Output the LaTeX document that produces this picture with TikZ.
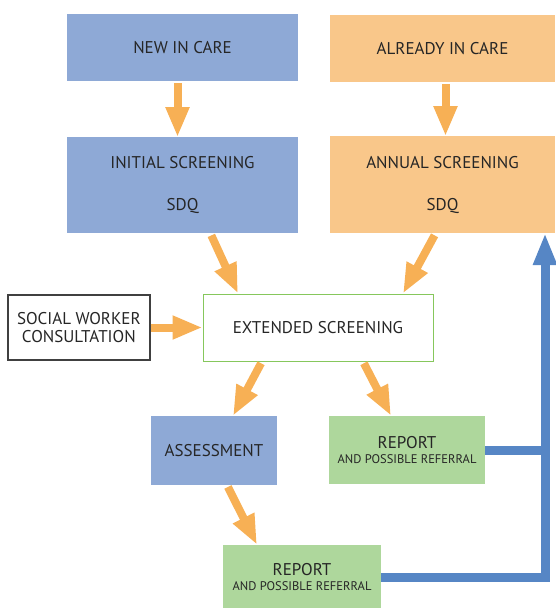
\documentclass[tikz,border=0pt]{standalone}
\usepackage{fontspec}
\setmainfont{PT Sans}
\usepackage{tikz}
\usetikzlibrary{positioning}
\usetikzlibrary{arrows.meta}

\definecolor{boxblue}{HTML}{8EA9D6}
\definecolor{boxorange}{HTML}{F9C78A}
\definecolor{boxgreen}{HTML}{AED79C}
\definecolor{edgegreen}{HTML}{86C75C}
\definecolor{arroworange}{HTML}{F7B055}
\definecolor{lineblue}{HTML}{5686C5}
\definecolor{textgray}{HTML}{262626}

\begin{document}
\begin{tikzpicture}[x=1pt, y=-1pt,
    box/.style={text=textgray, align=center, inner sep=0pt,
      font=\fontsize{17}{18}\selectfont},
    bluebox/.style={box, fill=boxblue},
    orangebox/.style={box, fill=boxorange},
    greenbox/.style={box, fill=boxgreen},
    flow/.style={-{Triangle[width=22pt,length=30pt]}, line width=8pt, arroworange},
    back/.style={-{Triangle[width=22pt,length=32pt]}, line width=9pt, lineblue}]
  \useasboundingbox (0,0) rectangle (555,608);
  % nodes %
  \node[bluebox, minimum width=231pt, minimum height=67pt] (new) at (182.5,47.5) {NEW IN CARE};
  \node[orangebox, minimum width=225pt, minimum height=67pt] (already) at (442.5,48.5) {ALREADY IN CARE};
  \node[bluebox, minimum width=231pt, minimum height=96pt, below=56pt of new] (init)
    {INITIAL SCREENING\\[24pt]SDQ};
  \node[orangebox, minimum width=225pt, minimum height=97pt, below=54pt of already] (annual)
    {ANNUAL SCREENING\\[24pt]SDQ};
  \node[box, draw=edgegreen, line width=1pt, minimum width=230pt, minimum height=67pt] (ext) at (318,327.5)
    {EXTENDED SCREENING};
  \node[box, draw=black!75, line width=1.3pt, minimum width=142pt, minimum height=65pt, left=52pt of ext] (social)
    {SOCIAL WORKER\\CONSULTATION};
  \node[bluebox, minimum width=126pt, minimum height=69pt] (assess) at (214,450.5) {ASSESSMENT};
  \node[greenbox, minimum width=156pt, minimum height=68pt] (rep1) at (407,450)
    {REPORT\\[-3pt]{\fontsize{12.5}{13}\selectfont AND POSSIBLE REFERRAL}};
  \node[greenbox, minimum width=158pt, minimum height=64pt] (rep2) at (302,577)
    {REPORT\\[-3pt]{\fontsize{12.5}{13}\selectfont AND POSSIBLE REFERRAL}};
  \coordinate (top) at (545,233);
  % edges %
  \draw[flow, shorten <=2pt] ([xshift=-5pt]new.south) -- ([xshift=-5pt]init.north);
  \draw[flow, shorten <=2pt] ([xshift=3pt]already.south) -- ([xshift=3pt]annual.north);
  \draw[flow, shorten <=2pt] ([xshift=28pt]init.south) -- ([xshift=-80pt]ext.north);
  \draw[flow, shorten <=2pt] ([xshift=-7pt]annual.south) -- ([xshift=85pt]ext.north);
  \draw[flow] (social.east) -- (ext.west);
  \draw[flow, shorten <=2pt] ([xshift=-56pt]ext.south) -- ([xshift=19pt]assess.north);
  \draw[flow, shorten <=2pt] ([xshift=45pt]ext.south) -- ([xshift=-16pt]rep1.north);
  \draw[flow, shorten <=2pt] ([xshift=13pt]assess.south) -- ([xshift=-45pt]rep2.north);

  \draw[back, -] (rep1.east) -- (rep1.east -| top);
  \draw[back, line join=miter] (rep2.east) -| (top);
\end{tikzpicture}
\end{document}
